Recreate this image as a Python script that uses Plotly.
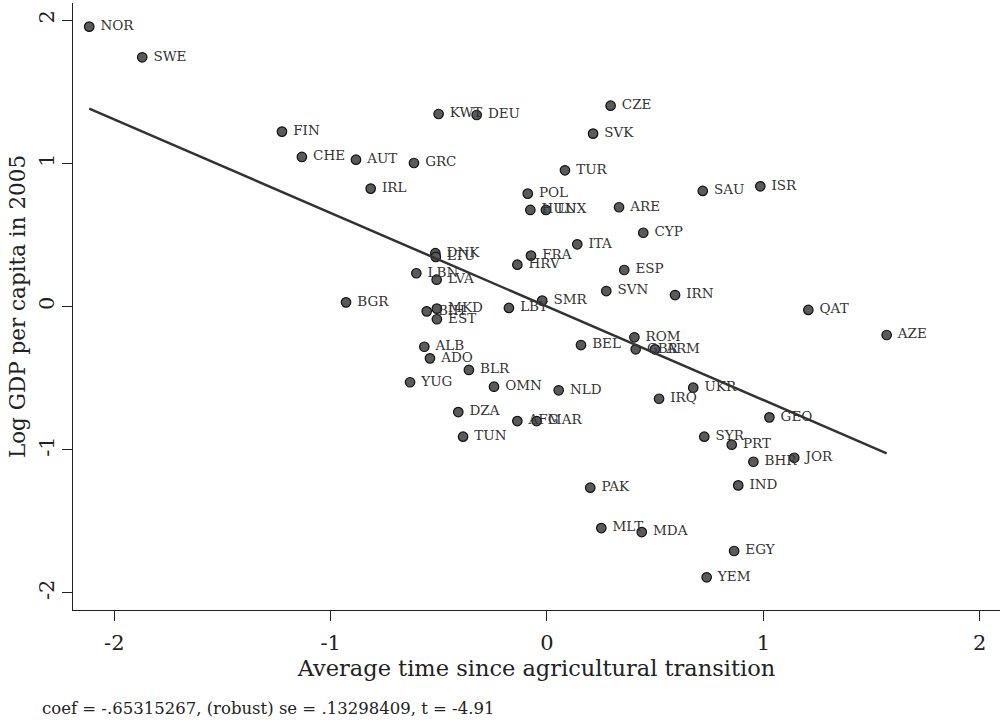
import plotly.graph_objects as go

# Country codes
countries = ["NOR","SWE","FIN","CHE","AUT","GRC","IRL","KWT","DEU","CZE","SVK","TUR",
             "POL","HUN","LUX","ARE","SAU","ISR","CYP","ITA","DNK","LTU","FRA","HRV",
             "LBN","LVA","ESP","SVN","IRN","SMR","BGR","LBY","BIH","MKD","EST","QAT",
             "AZE","ROM","BEL","GBR","ARM","ALB","ADO","BLR","YUG","OMN","NLD","UKR",
             "IRQ","DZA","AFG","MAR","GEO","TUN","SYR","PRT","BHR","JOR","IND","PAK",
             "MLT","MDA","EGY","YEM"]

# Average time since agricultural transition (residual)
x_vals = [-2.116,-1.871,-1.225,-1.133,-0.883,-0.615,-0.815,-0.501,-0.325,0.294,0.213,0.083,
          -0.089,-0.077,-0.005,0.333,0.720,0.986,0.445,0.140,-0.516,-0.514,-0.074,-0.137,
          -0.604,-0.510,0.357,0.274,0.592,-0.022,-0.929,-0.176,-0.556,-0.509,-0.509,1.208,
          1.570,0.404,0.157,0.410,0.499,-0.567,-0.541,-0.361,-0.633,-0.245,0.054,0.676,
          0.518,-0.410,-0.137,-0.048,1.028,-0.388,0.727,0.854,0.954,1.143,0.884,0.200,
          0.251,0.438,0.865,0.738]

# Log GDP per capita in 2005 (residual)
y_vals = [1.954,1.740,1.221,1.044,1.025,1.002,0.823,1.344,1.337,1.402,1.207,0.951,
          0.788,0.674,0.674,0.693,0.807,0.839,0.515,0.434,0.372,0.346,0.355,0.292,
          0.232,0.187,0.255,0.108,0.080,0.041,0.029,-0.010,-0.034,-0.015,-0.089,-0.024,
          -0.199,-0.215,-0.269,-0.299,-0.299,-0.281,-0.362,-0.443,-0.529,-0.560,-0.585,-0.567,
          -0.644,-0.737,-0.800,-0.800,-0.774,-0.909,-0.909,-0.965,-1.084,-1.056,-1.249,-1.265,
          -1.547,-1.575,-1.707,-1.891]

coef = -0.65315267
note_text = "coef = -.65315267, (robust) se = .13298409, t = -4.91"

x_ticks = [-2, -1, 0, 1, 2]
y_ticks = [-2, -1, 0, 1, 2]

fit_x = [min(x_vals), max(x_vals)]
fit_y = [coef * v for v in fit_x]

FONT = "DejaVu Serif"

fig = go.Figure()
fig.add_trace(go.Scatter(
    x=x_vals, y=y_vals, mode="markers+text", text=[" " + c for c in countries],
    textposition="middle right",
    textfont=dict(family=FONT, size=13.5, color="#333333"),
    marker=dict(size=9.5, color="#5a5a5a", line=dict(color="#111111", width=1.2)),
    showlegend=False, cliponaxis=False,
))
fig.add_trace(go.Scatter(
    x=fit_x, y=fit_y, mode="lines",
    line=dict(color="#333333", width=2.5),
    showlegend=False,
))

fig.update_layout(
    width=1001, height=720,
    margin=dict(l=73, r=1, t=3, b=110),
    paper_bgcolor="white", plot_bgcolor="white",
    font=dict(family=FONT, color="#222222"),
    xaxis=dict(
        range=[-2.191, 2.094], tickvals=x_ticks, ticktext=[str(t) for t in x_ticks],
        showgrid=False, zeroline=False, showline=True, linecolor="#222222", linewidth=1.2,
        ticks="outside", ticklen=10, tickcolor="#222222", tickwidth=1.2,
        ticklabelstandoff=4,
        tickfont=dict(family=FONT, size=21, color="#222222"),
        title=dict(text="Average time since agricultural transition",
                   font=dict(family=FONT, size=22.5, color="#222222"), standoff=3),
    ),
    yaxis=dict(
        range=[-2.119, 2.119], tickvals=y_ticks, ticktext=[str(t) for t in y_ticks],
        showgrid=False, zeroline=False, showline=True, linecolor="#222222", linewidth=1.2,
        ticks="outside", ticklen=10, tickcolor="#222222", tickwidth=1.2, tickangle=-90,
        tickfont=dict(family=FONT, size=21, color="#222222"),
        title=dict(text="Log GDP per capita in 2005",
                   font=dict(family=FONT, size=21.5, color="#222222"), standoff=2),
    ),
    annotations=[dict(
        text=note_text, xref="paper", yref="paper", x=-0.036, y=-0.143,
        xanchor="left", yanchor="top", showarrow=False,
        font=dict(family=FONT, size=16.5, color="#222222"),
    )],
)

fig.write_html("out.html")
